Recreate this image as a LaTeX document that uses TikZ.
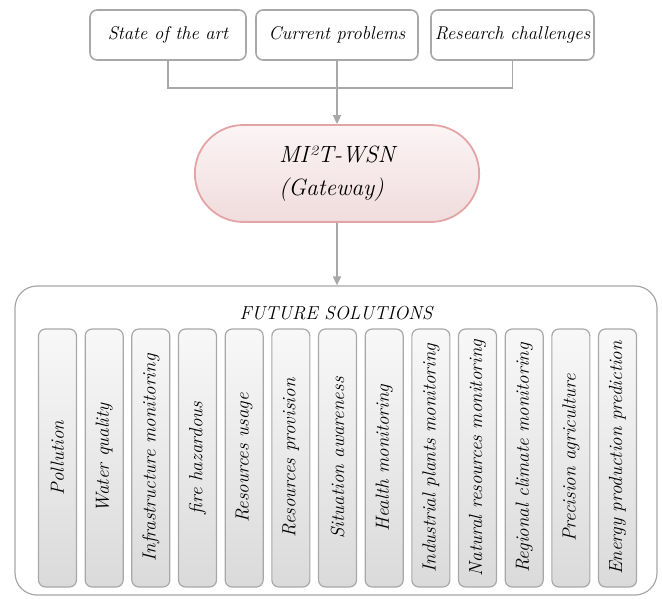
\documentclass[tikz,border=0pt]{standalone}
\usepackage{fontspec}
\usetikzlibrary{arrows.meta,shapes.misc}
\definecolor{lineg}{HTML}{A8A8A8}
\definecolor{pinkb}{HTML}{E4A4A6}
\definecolor{pinktop}{HTML}{FCF4F5}
\definecolor{pinkbot}{HTML}{F0DCDD}
\definecolor{pilltop}{HTML}{F8F8F8}
\definecolor{pillbot}{HTML}{DADADA}
\tikzset{
  topbox/.style={draw=lineg, line width=1.6pt, rounded corners=7pt, minimum width=156pt, minimum height=50pt, inner sep=0pt, font=\fontsize{18.5}{22}\selectfont\itshape},
  gatebox/.style={draw=pinkb, line width=1.8pt, rounded rectangle, minimum width=291pt, minimum height=97pt, top color=pinktop, bottom color=pinkbot, align=left, font=\fontsize{23.5}{33}\selectfont\itshape},
  bigbox/.style={draw=lineg, line width=1.2pt, rounded corners=22pt, minimum width=642pt, minimum height=309pt, inner sep=0pt},
  pillar/.style={draw=lineg, line width=1.2pt, rounded corners=7pt, minimum width=38pt, minimum height=258pt, inner sep=0pt, top color=pilltop, bottom color=pillbot},
  plabel/.style={rotate=90, font=\fontsize{19}{22}\selectfont\itshape},
  conn/.style={draw=lineg, line width=1.8pt},
  arr/.style={conn, -{Triangle[length=9pt,width=8pt]}},
}
\begin{document}
\begin{tikzpicture}[x=1pt,y=-1pt]
\useasboundingbox (0,0) rectangle (662,599);
\node[topbox] (s1) at (168,35) {State of the art};
\node[topbox, minimum width=162pt] (s2) at (337,35) {Current problems};
\node[topbox, minimum width=163pt] (s3) at (512.5,35) {Research challenges};
\node[gatebox] (gw) at (337,173.5) {MI²T-WSN\\(Gateway)};
\node[bigbox] (fs) at (336,440.5) {};
\node[font=\fontsize{18.8}{22}\selectfont\itshape] (ft) at (336,313) {FUTURE SOLUTIONS};
\coordinate (j) at (337,88);
\draw[conn] (s1.south) |- (j);
\draw[conn] (s3.south) |- (j);
\draw[arr] (s2.south) -- (gw.north);
\draw[arr] (gw.south) -- (gw.south |- fs.north);
\foreach \i/\t in {1/Pollution,2/Water quality,3/Infrastructure monitoring,4/fire hazardous,5/Resources usage,6/Resources provision,7/Situation awareness,8/Health monitoring,9/Industrial plants monitoring,10/Natural resources monitoring,11/Regional climate monitoring,12/Precision agriculture,13/Energy production prediction}{
  \node[pillar, label={[plabel]center:\t}] (p\i) at ({57.5+(\i-1)*46.67},458) {};
}
\end{tikzpicture}
\end{document}
